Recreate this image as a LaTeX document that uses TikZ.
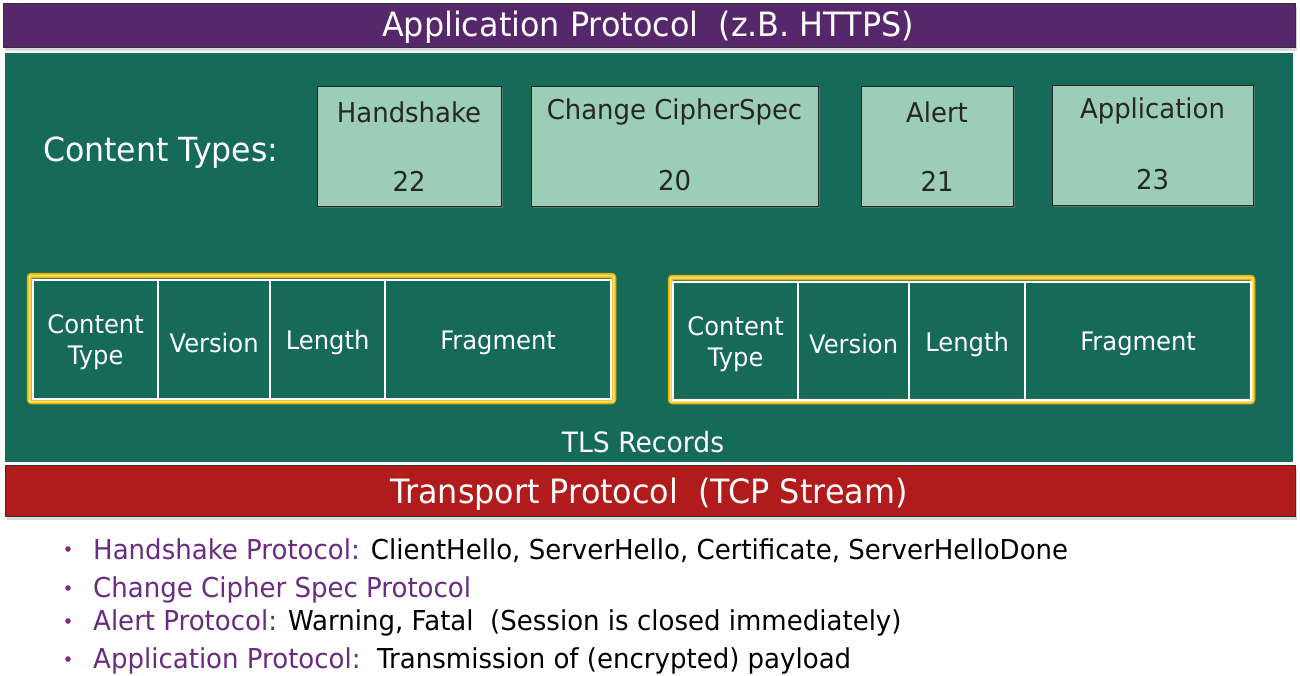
\documentclass[tikz,border=0pt]{standalone}
\usepackage{fontspec}
\setmainfont{DejaVu Sans}[FakeStretch=0.95]
\usetikzlibrary{shadows}
\definecolor{apppurple}{HTML}{56276B}
\definecolor{tlsgreen}{HTML}{166B58}
\definecolor{ctgreen}{HTML}{9BCDB7}
\definecolor{tcpred}{HTML}{B11B1B}
\definecolor{txtpurple}{HTML}{6A2C80}
\definecolor{gold}{HTML}{E8B400}
\definecolor{lightgold}{HTML}{FFE27A}
\definecolor{bulletc}{HTML}{8A2A6E}
\tikzset{
  x=1pt,y=-1pt,
  bar/.style={draw=black!80,line width=1pt,inner sep=0pt,anchor=north west,drop shadow={shadow xshift=1pt,shadow yshift=-3pt,fill=black!30}},
  bartext/.style={text=white,font=\fontsize{33.5}{38}\selectfont,inner sep=0pt},
  ctbox/.style={draw=black!85,line width=1.2pt,fill=ctgreen,inner sep=0pt,anchor=north west,drop shadow={shadow xshift=1.5pt,shadow yshift=-1.5pt,fill=black!45}},
  cttext/.style={text=black!85,font=\fontsize{27.3}{31}\selectfont,inner sep=0pt},
  cell/.style={draw=white,line width=2.2pt,inner sep=0pt,anchor=north west},
  celltext/.style={text=white,font=\fontsize{25.5}{31}\selectfont,inner sep=0pt,align=center,yshift=-3pt},
  blt/.style={font=\fontsize{27.4}{31}\selectfont,inner sep=0pt,anchor=west,yshift=-2pt},
}
\begin{document}
\begin{tikzpicture}
\useasboundingbox (0,0) rectangle (1300,675);
% green body
\node[fill=tlsgreen,minimum width=1288pt,minimum height=409pt,inner sep=0pt,anchor=north west] (body) at (5,53) {};
% application bar
\node[bar,fill=apppurple,minimum width=1292pt,minimum height=44pt] (app) at (3,3) {};
\node[bartext] (apptext) at (648,27) {Application Protocol\ \ (z.B. HTTPS)};
% transport bar
\node[bar,fill=tcpred,minimum width=1290pt,minimum height=51pt] (tcp) at (5,465) {};
\node[bartext] (tcptext) at (649,494) {Transport Protocol\ \ (TCP Stream)};
% content types
\node[text=white,font=\fontsize{33.2}{38}\selectfont,inner sep=0pt,anchor=west] (ctlabel) at (43,153) {Content Types:};
\node[ctbox,minimum width=184pt,minimum height=120pt] (hs) at (317,86) {};
\node[cttext] (hst) at (409,112) {Handshake};
\node[cttext] (hsn) at (409,181) {22};
\node[ctbox,minimum width=287pt,minimum height=120pt] (ccs) at (531,86) {};
\node[cttext] (ccst) at (674.5,112) {Change CipherSpec};
\node[cttext] (ccsn) at (674.5,181) {20};
\node[ctbox,minimum width=152pt,minimum height=120pt] (al) at (861,86) {};
\node[cttext] (alt) at (937,112) {Alert};
\node[cttext] (aln) at (937,181) {21};
\node[ctbox,minimum width=201pt,minimum height=120pt] (ap) at (1052,85) {};
\node[cttext] (apt) at (1152.5,111) {Application};
\node[cttext] (apn) at (1152.5,180) {23};
% record 1
\draw[gold,line width=5.5pt,rounded corners=2pt] (29.5,275.5) rectangle (613.5,401.5);
\draw[lightgold,line width=2pt,rounded corners=1pt] (29.5,275.5) rectangle (613.5,401.5);
\node[cell,minimum width=125pt,minimum height=119pt] (r1a) at (32,279) {};
\node[cell,minimum width=112pt,minimum height=119pt] (r1b) at (157,279) {};
\node[cell,minimum width=115pt,minimum height=119pt] (r1c) at (269,279) {};
\node[cell,minimum width=226pt,minimum height=119pt] (r1d) at (384,279) {};
\node[celltext] at (r1a.center) {Content\\Type};
\node[celltext] at (r1b.center) {Version};
\node[celltext] at (r1c.center) {Length};
\node[celltext] at (r1d.center) {Fragment};
% record 2
\draw[gold,line width=5.5pt,rounded corners=2pt] (670.5,277.5) rectangle (1252.5,401.5);
\draw[lightgold,line width=2pt,rounded corners=1pt] (670.5,277.5) rectangle (1252.5,401.5);
\node[cell,minimum width=125pt,minimum height=118pt] (r2a) at (672,281) {};
\node[cell,minimum width=111pt,minimum height=118pt] (r2b) at (797,281) {};
\node[cell,minimum width=116pt,minimum height=118pt] (r2c) at (908,281) {};
\node[cell,minimum width=226pt,minimum height=118pt] (r2d) at (1024,281) {};
\node[celltext] at (r2a.center) {Content\\Type};
\node[celltext] at (r2b.center) {Version};
\node[celltext] at (r2c.center) {Length};
\node[celltext] at (r2d.center) {Fragment};
\node[celltext,font=\fontsize{28}{32}\selectfont,yshift=1pt] (tlsrec) at (643,440) {TLS Records};
% bullets
\foreach \yy in {549,588,621,659}{\fill[bulletc] (68,\yy) circle (2.8pt);}
\node[blt] (b1) at (93,549) {\textcolor{txtpurple}{Handshake Protocol:} ClientHello, ServerHello, Certificate, ServerHelloDone};
\node[blt] (b2) at (93,588) {\textcolor{txtpurple}{Change Cipher Spec Protocol}};
\node[blt] (b3) at (93,621) {\textcolor{txtpurple}{Alert Protocol:} Warning, Fatal\ \ (Session is closed immediately)};
\node[blt] (b4) at (93,659) {\textcolor{txtpurple}{Application Protocol:}\ \ Transmission of (encrypted) payload};
\end{tikzpicture}
\end{document}
